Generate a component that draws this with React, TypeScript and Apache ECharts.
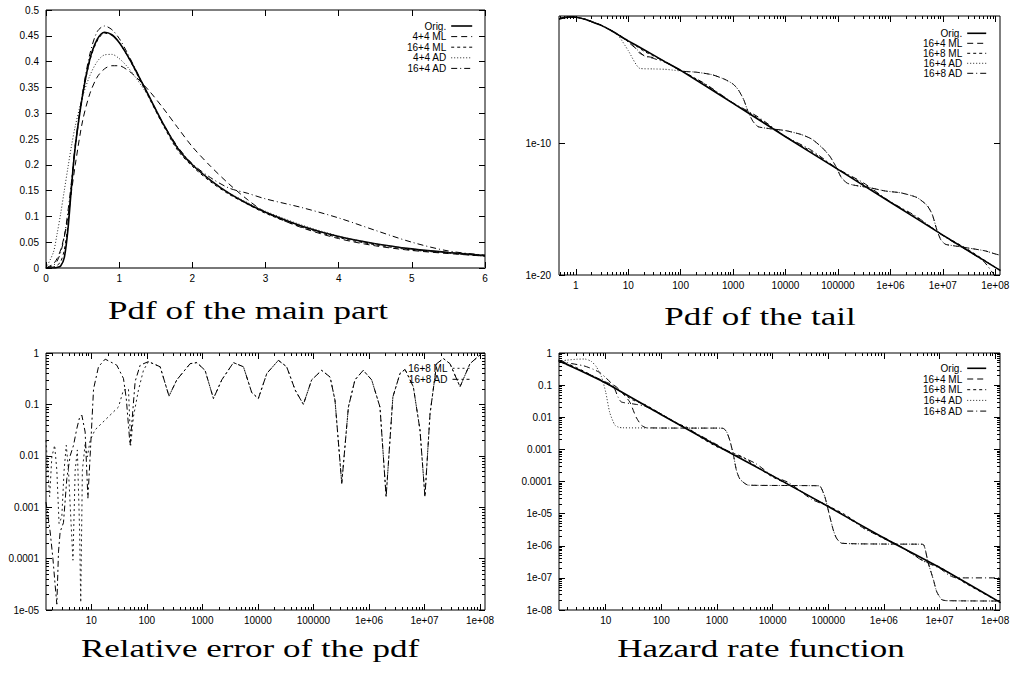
import React, { useEffect, useRef } from "react";
import * as echarts from "echarts";

// ---------------- Panel 1: Pdf of the main part (linear axes) ----------------
const mainX = [0, 0.1, 0.15, 0.2, 0.25, 0.3, 0.35, 0.4, 0.5, 0.6, 0.7, 0.8, 0.9, 1.0, 1.1, 1.2, 1.4, 1.6, 1.8, 2.0, 2.25, 2.5, 2.75, 3.0, 3.5, 4.0, 4.5, 5.0, 5.5, 6.0];
const mainOrig = [0, 0, 0.001, 0.004, 0.02, 0.075, 0.16, 0.235, 0.335, 0.405, 0.443, 0.457, 0.452, 0.437, 0.415, 0.39, 0.335, 0.28, 0.232, 0.2, 0.17, 0.145, 0.125, 0.108, 0.081, 0.061, 0.047, 0.037, 0.03, 0.024];
const main44ML = [0, 0.008, 0.018, 0.035, 0.062, 0.1, 0.15, 0.2, 0.285, 0.338, 0.37, 0.386, 0.392, 0.392, 0.385, 0.374, 0.345, 0.31, 0.272, 0.235, 0.197, 0.163, 0.133, 0.108, 0.078, 0.057, 0.043, 0.034, 0.028, 0.023];
const main164ML = [0, 0.002, 0.005, 0.012, 0.035, 0.085, 0.165, 0.235, 0.333, 0.402, 0.44, 0.455, 0.451, 0.437, 0.414, 0.388, 0.332, 0.277, 0.228, 0.197, 0.167, 0.143, 0.124, 0.106, 0.079, 0.059, 0.045, 0.035, 0.029, 0.023];
const main44AD = [0, 0.03, 0.065, 0.105, 0.15, 0.195, 0.238, 0.275, 0.332, 0.373, 0.4, 0.413, 0.414, 0.406, 0.392, 0.374, 0.333, 0.28, 0.232, 0.2, 0.17, 0.146, 0.127, 0.11, 0.083, 0.062, 0.047, 0.037, 0.03, 0.024];
const main164AD = [0, 0.005, 0.013, 0.03, 0.06, 0.11, 0.17, 0.24, 0.34, 0.415, 0.458, 0.469, 0.462, 0.445, 0.42, 0.392, 0.335, 0.28, 0.235, 0.202, 0.175, 0.155, 0.145, 0.134, 0.117, 0.097, 0.073, 0.05, 0.033, 0.025];
const mainXTicks = [0, 1, 2, 3, 4, 5, 6];
const mainYTicks = [0, 0.05, 0.1, 0.15, 0.2, 0.25, 0.3, 0.35, 0.4, 0.45, 0.5];

// ---------------- Panel 2: Pdf of the tail (log-log) ----------------
const tailOrigX = [0.48, 0.6, 0.8, 1, 1.5, 2, 3, 5, 7, 10, 20, 50, 100, 1e3, 1e4, 1e5, 1e6, 1e7, 1e8, 1.25e8];
const tailOrig = [0.32, 0.405, 0.457, 0.437, 0.307, 0.2, 0.108, 0.037, 0.016, 6.8e-3, 1.45e-3, 1.8e-4, 3.9e-5, 1.2e-7, 3.4e-10, 1.1e-12, 3.5e-15, 1.1e-17, 3.8e-20, 2.2e-20];
const tail164MLX = [0.48, 0.6, 0.8, 1, 1.5, 2, 3, 5, 7, 10, 13, 16.6, 24, 37, 50, 70];
const tail164ML = [0.32, 0.405, 0.457, 0.437, 0.307, 0.2, 0.108, 0.037, 0.016, 6.3e-3, 2.5e-3, 7.8e-4, 4.3e-4, 3.2e-4, 1.8e-4, 8.5e-5];
const tail164ADX = [0.48, 0.6, 0.8, 1, 1.5, 2, 3, 5, 6.4, 10, 16.6, 30, 50, 70];
const tail164AD = [0.32, 0.405, 0.457, 0.437, 0.307, 0.2, 0.108, 0.037, 0.019, 1.26e-3, 5.5e-5, 5e-5, 4.7e-5, 4.1e-5];
// common tail of the two 16+4 fits
const tailWaveX = [100, 200, 400, 700, 1000, 1260, 1600, 1950, 2400, 3000, 5000, 1e4, 2e4, 3.2e4, 5e4, 7e4, 9.3e4, 1.17e5, 1.5e5, 2e5, 4e5, 8e5, 1.6e6, 3.2e6, 5e6, 6.3e6, 7.6e6, 9.1e6, 1.12e7, 1.6e7, 3.2e7, 6.3e7, 1e8, 1.25e8];
const tailWave = [3.5e-5, 2.8e-5, 1.8e-5, 7.9e-6, 3.5e-6, 1.26e-6, 2.2e-7, 2.5e-8, 5e-9, 2e-9, 1.4e-9, 1e-9, 5e-10, 2.2e-10, 5e-11, 1.1e-11, 1.6e-12, 2.5e-13, 1e-13, 7e-14, 4.5e-14, 2.5e-14, 1.8e-14, 8e-15, 2e-15, 4e-16, 3.2e-17, 5e-18, 2.2e-18, 1.7e-18, 1.1e-18, 7e-19, 4e-19, 3.2e-19];
const tail168MLX = [0.48, 0.6, 0.8, 1, 1.5, 2, 3, 5, 7, 10, 15, 20, 30, 50, 100, 300, 1000, 3000, 1e4, 3e4, 1e5, 3e5, 1e6, 3e6, 1e7, 3e7, 1e8, 1.25e8];
const tail168ML = [0.33, 0.41, 0.455, 0.437, 0.305, 0.198, 0.107, 0.036, 0.0158, 6.6e-3, 2.4e-3, 1.1e-3, 5e-4, 1.8e-4, 3.9e-5, 3.2e-6, 1.2e-7, 8.9e-9, 3.4e-10, 2.8e-11, 1.1e-12, 8.9e-14, 3.5e-15, 2.8e-16, 1.1e-17, 8.9e-19, 3.8e-20, 2.2e-20];
const tail168ADX = [0.48, 0.6, 0.8, 1, 1.5, 2, 3, 5, 7, 10, 15, 20, 30, 50, 100, 300, 1000, 3000, 1e4, 3e4, 1e5, 3e5, 1e6, 3e6, 1e7, 3e7, 6e7, 1e8, 1.25e8];
const tail168AD = [0.32, 0.4, 0.46, 0.44, 0.31, 0.2, 0.11, 0.039, 0.018, 5.6e-3, 1.4e-3, 5e-4, 3.2e-4, 1.6e-4, 3.8e-5, 3.5e-6, 1.3e-7, 1.1e-8, 3.6e-10, 3.5e-11, 1.2e-12, 1.1e-13, 3.8e-15, 3.2e-16, 1e-17, 7e-19, 1.1e-19, 8e-21, 2.5e-21];

// ---------------- Panel 3: Relative error of the pdf ----------------
const errMLX = [1.53, 1.78, 1.95, 2.19, 2.4, 2.63, 2.95, 3.24, 3.55, 3.89, 4.27, 4.68, 5.13, 5.62, 6.17, 6.46, 6.92, 7.76, 8.51, 9.55, 11.7, 15.5, 21.9, 30.9, 38, 46.8, 51.3, 57.5, 70.8, 87];
const errML = [0.02, 1.6e-3, 9.5e-3, 0.016, 5.2e-3, 4.8e-4, 6.5e-4, 5.2e-3, 0.016, 5.2e-3, 6.5e-4, 9.3e-5, 5.2e-3, 0.013, 3.5e-4, 1.4e-5, 5.2e-3, 0.017, 9.5e-3, 0.02, 0.032, 0.043, 0.062, 0.089, 0.19, 0.2, 0.016, 0.058, 0.19, 0.46];
const errADX = [1.53, 1.82, 2.04, 2.24, 2.4, 2.57, 2.75, 3.16, 3.63, 4.17, 4.79, 5.5, 6.17, 6.76, 7.76, 8.7, 9.55, 11, 13.5, 17.8, 28.8, 38, 42.7, 50, 61.7, 75.9];
const errAD = [1.26e-3, 3.3e-4, 1e-4, 3e-5, 1.3e-5, 1.35e-4, 3.3e-4, 5e-4, 3.6e-3, 0.01, 0.016, 0.034, 0.056, 0.062, 0.029, 1.5e-3, 0.01, 0.2, 0.54, 0.76, 0.58, 0.32, 0.13, 0.016, 0.28, 0.58];
// common part of both curves
const errWaveX = [107, 174, 251, 347, 603, 794, 1120, 1585, 2240, 3630, 5500, 7760, 1.02e4, 1.45e4, 2.34e4, 3.3e4, 4.7e4, 6.6e4, 9.3e4, 1.41e5, 2e5, 2.45e5, 3.24e5, 4.27e5, 5.6e5, 7.9e5, 1.12e6, 1.58e6, 2.04e6, 2.7e6, 3.63e6, 4.47e6, 6.3e6, 8.3e6, 1.02e7, 1.26e7, 1.66e7, 2.19e7, 2.88e7, 4.37e7, 6.6e7, 1.07e8, 1.23e8];
const errWave = [0.68, 0.54, 0.145, 0.3, 0.62, 0.65, 0.46, 0.13, 0.3, 0.65, 0.54, 0.17, 0.13, 0.4, 0.72, 0.54, 0.19, 0.1, 0.3, 0.46, 0.34, 0.12, 2.9e-3, 0.089, 0.3, 0.46, 0.3, 0.089, 1.6e-3, 0.14, 0.4, 0.48, 0.22, 0.032, 1.6e-3, 0.066, 0.62, 0.78, 0.62, 0.22, 0.62, 0.98, 1.0];

// ---------------- Panel 4: Hazard rate function ----------------
const hazOrigX = [1.43, 2, 5, 10, 100, 1e3, 1e4, 1e5, 1e6, 1e7, 1.25e8];
const hazOrig = [0.56, 0.44, 0.21, 0.117, 0.012, 1.3e-3, 1.5e-4, 1.66e-5, 1.74e-6, 2.1e-7, 1.7e-8];
const haz164MLX = [1.43, 2, 5, 10, 14, 18, 27, 35, 44, 54];
const haz164ML = [0.58, 0.45, 0.22, 0.125, 0.1, 0.07, 0.03, 0.0102, 0.0056, 0.0047];
const haz164ADX = [1.43, 2, 3, 4.2, 5.5, 6.8, 8.4, 10, 11.8, 14.5, 17, 20];
const haz164AD = [0.55, 0.6, 0.64, 0.65, 0.55, 0.37, 0.18, 0.06, 0.014, 5.8e-3, 4.9e-3, 4.7e-3];
// common plateaus of the two 16+4 fits
const hazTailX = [300, 1000, 1290, 1480, 1700, 1950, 2240, 2570, 3160, 3630, 2e4, 6e4, 7.1e4, 8.7e4, 1.07e5, 1.23e5, 1.41e5, 1.74e5, 1e6, 4e6, 5.1e6, 6.3e6, 7.8e6, 8.9e6, 1.1e7, 1.35e7, 1.25e8];
const hazTail = [0.0046, 0.0046, 0.0045, 3.6e-3, 1.9e-3, 7.4e-4, 2.2e-4, 1.2e-4, 8.7e-5, 7.7e-5, 7.5e-5, 7.4e-5, 7.2e-5, 3.3e-5, 7.9e-6, 3.1e-6, 1.7e-6, 1.2e-6, 1.13e-6, 1.12e-6, 1.1e-6, 2.8e-7, 8.5e-8, 3.7e-8, 2.1e-8, 1.95e-8, 1.9e-8];
const haz168MLX = [1.43, 3, 6, 10, 15, 20, 30, 50, 100, 200, 300, 500, 1000, 2000, 3000, 5000, 1e4, 2e4, 5e4, 1e5, 2e5, 5e5, 1e6, 2e6, 5e6, 1e7, 3e7, 1.25e8];
const haz168ML = [0.6, 0.35, 0.19, 0.112, 0.083, 0.056, 0.035, 0.025, 0.0126, 6.3e-3, 4.7e-3, 2.4e-3, 1.2e-3, 7.6e-4, 5.6e-4, 3e-4, 1.38e-4, 7.9e-5, 3.2e-5, 1.74e-5, 9.3e-6, 3.2e-6, 1.66e-6, 9.5e-7, 3.5e-7, 2.2e-7, 6.6e-8, 1.7e-8];
const haz168ADX = [1.43, 2, 4, 6, 8, 10, 13.5, 16.6, 19, 31, 47, 62, 100, 200, 300, 500, 1000, 2000, 3000, 5000, 1e4, 2e4, 5e4, 1e5, 2e5, 5e5, 1e6, 2e6, 5e6, 1e7, 1.5e7, 2e7, 1.25e8];
const haz168AD = [0.6, 0.5, 0.4, 0.31, 0.24, 0.17, 0.1, 0.043, 0.03, 0.026, 0.023, 0.019, 0.0125, 6e-3, 4.3e-3, 2.7e-3, 1.4e-3, 7e-4, 5.5e-4, 3.6e-4, 1.5e-4, 9e-5, 2.8e-5, 1.7e-5, 8.5e-6, 3e-6, 1.8e-6, 9.5e-7, 3.4e-7, 2e-7, 1.2e-7, 1e-7, 1e-7];

// ---------------- tick labels & texts ----------------
const decadeXLabels = ["1", "10", "100", "1000", "10000", "100000", "1e+06", "1e+07", "1e+08"];
const decadeYLabels = ["1", "0.1", "0.01", "0.001", "0.0001", "1e-05", "1e-06", "1e-07", "1e-08"];
const tailYTickExps = [-10, -20];
const tailYLabels = ["1e-10", "1e-20"];
const panelTitles = ["Pdf of the main part", "Pdf of the tail", "Relative error of the pdf", "Hazard rate function"];
const legendMain = ["Orig.", "4+4 ML", "16+4 ML", "4+4 AD", "16+4 AD"];
const legendTail = ["Orig.", "16+4 ML", "16+8 ML", "16+4 AD", "16+8 AD"];
const legendErr = ["16+8 ML", "16+8 AD"];

const SANS = "Liberation Sans, Arial, Helvetica, sans-serif";
const INK = "#000";

const LS = {
  solid: { color: INK, width: 1.6, type: "solid" as any },
  dash: { color: INK, width: 1, type: [6, 4] as any },
  short: { color: INK, width: 1, type: [3, 3] as any },
  dot: { color: "#222", width: 1, type: [1, 2] as any },
  dashdot: { color: INK, width: 1, type: [6, 3, 1, 3] as any },
  errML: { color: "#222", width: 1, type: [2, 3] as any },
  errAD: { color: INK, width: 1, type: [6, 3, 2, 3] as any },
};

function logPairs(xs: number[], ys: number[]) {
  return xs.map((x, i) => [Math.log10(x), Math.log10(ys[i])]);
}
function linPairs(xs: number[], ys: number[]) {
  return xs.map((x, i) => [x, ys[i]]);
}
function minorLog(min: number, max: number) {
  const out: number[] = [];
  for (let d = Math.floor(min); d <= Math.ceil(max); d++) {
    for (let k = 2; k <= 9; k++) {
      const v = d + Math.log10(k);
      if (v > min && v < max) out.push(v);
    }
  }
  return out;
}
function intRange(a: number, b: number) {
  const out: number[] = [];
  for (let v = a; v <= b; v++) out.push(v);
  return out;
}

type AxisSpec = {
  grid: number;
  min: number;
  max: number;
  majors: number[];
  minors: number[];
  fmt: (v: number) => string;
  margin: number;
  line?: any;
};

function addAxes(dim: "x" | "y", spec: AxisSpec, list: any[]): number {
  const idx = list.length;
  const pA = dim === "x" ? "bottom" : "left";
  const pB = dim === "x" ? "top" : "right";
  const base = {
    type: "value",
    gridIndex: spec.grid,
    min: spec.min,
    max: spec.max,
    splitLine: { show: false },
    splitArea: { show: false },
    axisLine: { show: false, onZero: false },
  };
  const tick = (vals: number[], len: number) => ({
    show: true,
    inside: true,
    length: len,
    customValues: vals,
    lineStyle: { color: INK, width: 1 },
  });
  list.push({
    ...base,
    position: pA,
    axisLine: spec.line ? { show: true, onZero: false, lineStyle: spec.line } : { show: false, onZero: false },
    axisTick: tick(spec.majors, 6),
    axisLabel: {
      show: true,
      customValues: spec.majors,
      formatter: spec.fmt,
      margin: spec.margin,
      fontSize: 10,
      fontFamily: SANS,
      color: INK,
      hideOverlap: false,
    },
  });
  list.push({ ...base, position: pB, axisTick: tick(spec.majors, 6), axisLabel: { show: false } });
  if (spec.minors.length) {
    list.push({ ...base, position: pA, axisTick: tick(spec.minors, 3), axisLabel: { show: false } });
    list.push({ ...base, position: pB, axisTick: tick(spec.minors, 3), axisLabel: { show: false } });
  }
  return idx;
}

function buildOption() {
  const grids = [
    { left: 46, top: 10, width: 439, height: 258 },
    { left: 559, top: 16, width: 441, height: 259 },
    { left: 46, top: 353, width: 439, height: 257 },
    { left: 559, top: 353, width: 441, height: 257 },
  ].map((g) => ({
    ...g,
    show: true,
    borderColor: INK,
    borderWidth: 1,
    backgroundColor: "rgba(0,0,0,0)",
    containLabel: false,
    outerBoundsMode: "none",
  }));

  const xAxes: any[] = [];
  const yAxes: any[] = [];

  const fmtLogX = (v: number) => decadeXLabels[Math.round(v)] ?? "";
  const fmtLogY = (v: number) => decadeYLabels[Math.round(-v)] ?? "";

  // panel 1
  const x1 = addAxes("x", {
    grid: 0, min: 0, max: 6, majors: mainXTicks, minors: [],
    fmt: (v) => String(Math.round(v)), margin: 5,
    line: { color: "#777", width: 2, type: [1, 1] },
  }, xAxes);
  const y1 = addAxes("y", {
    grid: 0, min: 0, max: 0.5, majors: mainYTicks, minors: [],
    fmt: (v) => String(+v.toFixed(2)), margin: 7,
  }, yAxes);
  // panel 2
  const x2 = addAxes("x", {
    grid: 1, min: -0.32, max: 8.09, majors: intRange(0, 8), minors: minorLog(-0.32, 8.09),
    fmt: fmtLogX, margin: 5,
  }, xAxes);
  const y2 = addAxes("y", {
    grid: 1, min: -20, max: -0.27, majors: tailYTickExps, minors: [],
    fmt: (v) => tailYLabels[tailYTickExps.indexOf(Math.round(v))] ?? "", margin: 8,
  }, yAxes);
  // panel 3
  const x3 = addAxes("x", {
    grid: 2, min: 0.185, max: 8.09, majors: intRange(1, 8), minors: minorLog(0.185, 8.09),
    fmt: fmtLogX, margin: 5,
  }, xAxes);
  const y3 = addAxes("y", {
    grid: 2, min: -5, max: 0, majors: intRange(-5, 0), minors: minorLog(-5, 0),
    fmt: fmtLogY, margin: 7,
  }, yAxes);
  // panel 4
  const x4 = addAxes("x", {
    grid: 3, min: 0.16, max: 8.087, majors: intRange(1, 8), minors: minorLog(0.16, 8.087),
    fmt: fmtLogX, margin: 5,
  }, xAxes);
  const y4 = addAxes("y", {
    grid: 3, min: -8, max: 0, majors: intRange(-8, 0), minors: minorLog(-8, 0),
    fmt: fmtLogY, margin: 7,
  }, yAxes);

  const line = (name: string, data: number[][], xi: number, yi: number, ls: any, smooth: number | boolean = false) => ({
    type: "line",
    name,
    data,
    xAxisIndex: xi,
    yAxisIndex: yi,
    symbol: "none",
    showSymbol: false,
    smooth,
    clip: true,
    silent: true,
    lineStyle: ls,
  });

  const series = [
    // panel 1
    line("Orig.", linPairs(mainX, mainOrig), x1, y1, LS.solid, 0.3),
    line("4+4 ML", linPairs(mainX, main44ML), x1, y1, LS.dash, 0.3),
    line("16+4 ML", linPairs(mainX, main164ML), x1, y1, LS.short, 0.3),
    line("4+4 AD", linPairs(mainX, main44AD), x1, y1, LS.dot, 0.3),
    line("16+4 AD", linPairs(mainX, main164AD), x1, y1, LS.dashdot, 0.3),
    // panel 2
    line("Orig.", logPairs(tailOrigX, tailOrig), x2, y2, LS.solid, 0.2),
    line("16+4 ML", logPairs(tail164MLX.concat(tailWaveX), tail164ML.concat(tailWave)), x2, y2, LS.dash, 0.2),
    line("16+8 ML", logPairs(tail168MLX, tail168ML), x2, y2, LS.short, 0.2),
    line("16+4 AD", logPairs(tail164ADX.concat(tailWaveX), tail164AD.concat(tailWave)), x2, y2, LS.dot, 0.2),
    line("16+8 AD", logPairs(tail168ADX, tail168AD), x2, y2, LS.dashdot, 0.2),
    // panel 3
    line("16+8 ML", logPairs(errMLX.concat(errWaveX), errML.concat(errWave)), x3, y3, LS.errML),
    line("16+8 AD", logPairs(errADX.concat(errWaveX), errAD.concat(errWave)), x3, y3, LS.errAD),
    // panel 4
    line("Orig.", logPairs(hazOrigX, hazOrig), x4, y4, LS.solid, 0.2),
    line("16+4 ML", logPairs(haz164MLX.concat(hazTailX), haz164ML.concat(hazTail)), x4, y4, LS.dash, 0.2),
    line("16+8 ML", logPairs(haz168MLX, haz168ML), x4, y4, LS.short, 0.2),
    line("16+4 AD", logPairs(haz164ADX.concat(hazTailX), haz164AD.concat(hazTail)), x4, y4, LS.dot, 0.2),
    line("16+8 AD", logPairs(haz168ADX, haz168AD), x4, y4, LS.dashdot, 0.2),
  ];

  const legend = (names: string[], styles: any[], right: number, top: number, itemWidth: number, gap: number) => ({
    orient: "vertical",
    align: "right",
    right,
    top,
    itemWidth,
    itemHeight: 10,
    itemGap: gap,
    padding: 0,
    selectedMode: false,
    textStyle: { fontSize: 10, fontFamily: SANS, color: INK },
    data: names.map((n, i) => ({
      name: n,
      lineStyle: styles[i],
      itemStyle: { opacity: 0, color: "rgba(0,0,0,0)", borderWidth: 0 },
    })),
  });

  const tailStyles = [LS.solid, LS.dash, LS.short, LS.dot, LS.dashdot];
  const legends = [
    legend(legendMain, [LS.solid, LS.dash, LS.short, LS.dot, LS.dashdot], 542, 21, 21, 0.6),
    legend(legendTail, tailStyles, 28, 28.3, 19, 0),
    legend(legendErr, [LS.errML, LS.errAD], 545, 363.3, 17, 1),
    legend(legendTail, tailStyles, 28, 363.3, 19, 0.7),
  ];

  const titleX = [248, 760, 250, 761];
  const titleY = [311, 317, 649, 649];
  const graphic = panelTitles.map((t, i) => ({
    type: "text",
    x: titleX[i],
    y: titleY[i],
    scaleX: 1.4,
    silent: true,
    style: {
      text: t,
      fontFamily: "Liberation Serif, Times New Roman, serif",
      fontSize: 25,
      fill: INK,
      align: "center",
      verticalAlign: "middle",
      textAlign: "center",
      textVerticalAlign: "middle",
    },
  }));

  return {
    animation: false,
    backgroundColor: "#fff",
    grid: grids,
    xAxis: xAxes,
    yAxis: yAxes,
    legend: legends,
    series,
    graphic,
  };
}

export default function App() {
  const ref = useRef<HTMLDivElement>(null);
  useEffect(() => {
    if (!ref.current) return;
    const chart = echarts.init(ref.current, null, { renderer: "svg" });
    chart.setOption(buildOption() as any);
    return () => chart.dispose();
  }, []);
  return (
    <div
      ref={ref}
      style={{ position: "fixed", left: 0, top: 0, width: 1015, height: 673, background: "#fff" }}
    />
  );
}
